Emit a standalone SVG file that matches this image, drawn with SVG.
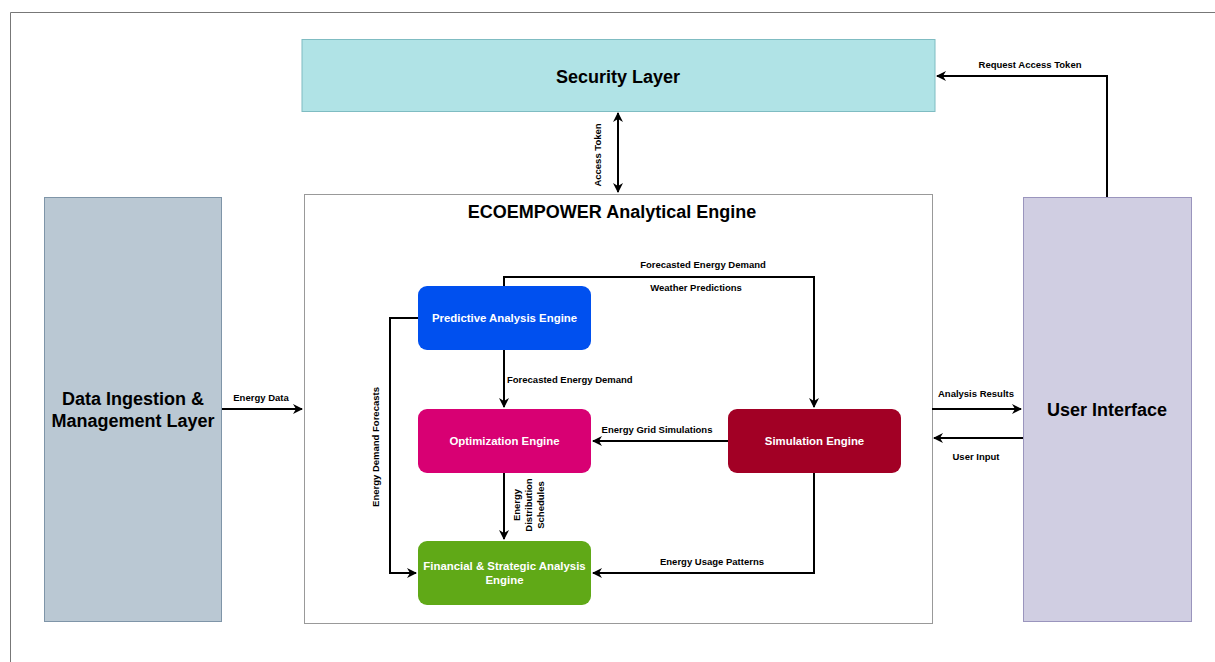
<svg xmlns="http://www.w3.org/2000/svg" width="1215" height="662" viewBox="0 0 1215 662">
<style>
.big{font-family:"Liberation Sans",Arial,sans-serif;font-weight:bold;font-size:18px;fill:#000;text-anchor:middle}
.nl{font-family:"Liberation Sans",Arial,sans-serif;font-weight:bold;font-size:11.4px;fill:#fff;text-anchor:middle}
.lbl{font-family:"Liberation Sans",Arial,sans-serif;font-weight:bold;font-size:9.5px;fill:#000;text-anchor:middle}
.c{fill:none;stroke:#000;stroke-width:2}
</style>
<defs>
<marker id="ah" viewBox="0 0 10 10" refX="9" refY="5" markerWidth="5" markerHeight="5" orient="auto-start-reverse" markerUnits="strokeWidth">
<path d="M0,0 L10,5 L0,10 L3,5 Z" fill="#000"/>
</marker>
</defs>
<rect width="1215" height="662" fill="#fff"/>
<path d="M1215,12.5 H10.5 V662" fill="none" stroke="#777" stroke-width="1"/>

<g id="security-layer">
<rect x="302" y="39.5" width="633" height="72" fill="#b0e3e6" stroke="#7fbcc2" stroke-width="1"/>
<text x="618" y="83" class="big">Security Layer</text>
</g>
<g id="analytical-engine">
<rect x="304.5" y="194.5" width="628" height="429" fill="#fff" stroke="#999" stroke-width="1"/>
<text x="612" y="218" class="big">ECOEMPOWER Analytical Engine</text>
</g>
<g id="data-ingestion">
<rect x="44.5" y="197.5" width="177" height="424" fill="#bac8d3" stroke="#7f95a8" stroke-width="1"/>
<text x="133" y="405" class="big">Data Ingestion &amp;</text>
<text x="133" y="427" class="big">Management Layer</text>
</g>
<g id="user-interface">
<rect x="1023.5" y="197.5" width="168" height="424" fill="#d0cee2" stroke="#9a95bd" stroke-width="1"/>
<text x="1107" y="416" class="big">User Interface</text>
</g>
<g id="predictive">
<rect x="418" y="286" width="173" height="64" rx="9" fill="#0050ef"/>
<text x="504.5" y="322" class="nl">Predictive Analysis Engine</text>
</g>
<g id="optimization">
<rect x="418" y="409" width="173" height="64" rx="9" fill="#d80073"/>
<text x="504.5" y="445" class="nl">Optimization Engine</text>
</g>
<g id="simulation">
<rect x="728" y="409" width="173" height="64" rx="9" fill="#a20025"/>
<text x="814.5" y="445" class="nl">Simulation Engine</text>
</g>
<g id="financial">
<rect x="418" y="541" width="173" height="64" rx="9" fill="#60a917"/>
<text x="504.5" y="570" class="nl">Financial &amp; Strategic Analysis</text>
<text x="504.5" y="584" class="nl">Engine</text>
</g>

<g id="connectors">
<path class="c" d="M618,113 V192" marker-start="url(#ah)" marker-end="url(#ah)"/>
<text class="lbl" transform="translate(601,155) rotate(-90)">Access Token</text>

<path class="c" d="M1107,197 V76 H937" marker-end="url(#ah)"/>
<text class="lbl" x="1030" y="68">Request Access Token</text>

<path class="c" d="M222,409 H302" marker-end="url(#ah)"/>
<text class="lbl" x="261" y="401">Energy Data</text>

<path class="c" d="M932,409 H1021" marker-end="url(#ah)"/>
<text class="lbl" x="976" y="397">Analysis Results</text>

<path class="c" d="M1023,438 H934" marker-end="url(#ah)"/>
<text class="lbl" x="976" y="460">User Input</text>

<path class="c" d="M504,286 V277 H814 V407" marker-end="url(#ah)"/>
<text class="lbl" x="703" y="268">Forecasted Energy Demand</text>
<text class="lbl" x="696" y="291">Weather Predictions</text>

<path class="c" d="M504,350 V407" marker-end="url(#ah)"/>
<text class="lbl" x="507" y="383" style="text-anchor:start">Forecasted Energy Demand</text>

<path class="c" d="M418,318 H390 V573 H416" marker-end="url(#ah)"/>
<text class="lbl" transform="translate(379,447) rotate(-90)">Energy Demand Forecasts</text>

<path class="c" d="M728,441 H593" marker-end="url(#ah)"/>
<text class="lbl" x="657" y="433">Energy Grid Simulations</text>

<path class="c" d="M504,473 V539" marker-end="url(#ah)"/>
<text class="lbl" transform="translate(520,505) rotate(-90)">Energy</text>
<text class="lbl" transform="translate(532,505) rotate(-90)">Distribution</text>
<text class="lbl" transform="translate(544,505) rotate(-90)">Schedules</text>

<path class="c" d="M814,473 V573 H593" marker-end="url(#ah)"/>
<text class="lbl" x="712" y="565">Energy Usage Patterns</text>
</g>
</svg>
